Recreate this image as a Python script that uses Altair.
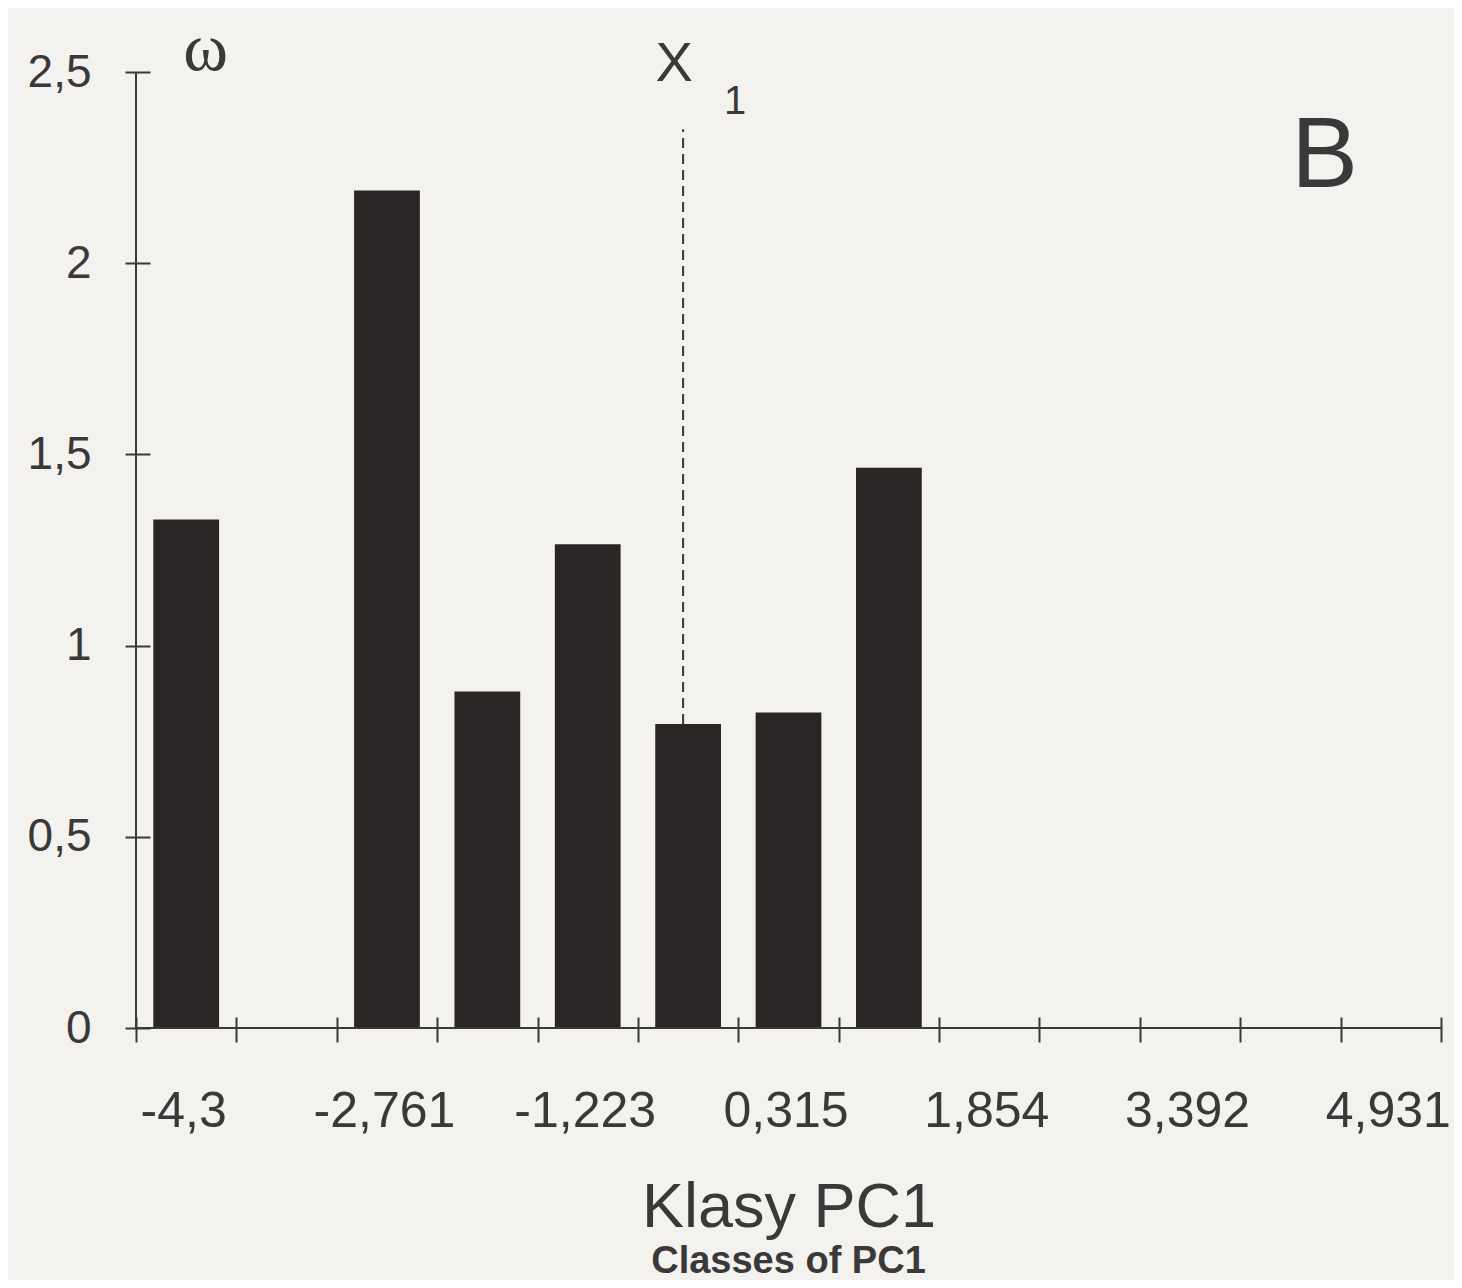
import json
import altair as alt
import pandas as pd

# ---- data ----
classes = ["-4,3", "-3,531", "-2,761", "-1,992", "-1,223", "-0,454", "0,315",
           "1,085", "1,854", "2,623", "3,392", "4,162", "4,931"]
omega = [1.33, 0.0, 2.19, 0.88, 1.265, 0.795, 0.825, 1.465, 0.0, 0.0, 0.0, 0.0, 0.0]
y_ticks = [0, 0.5, 1, 1.5, 2, 2.5]
mean_class = "-0,454"      # class holding the mean line x1
mean_top = 2.35            # top of the dashed mean line
panel_label = "B"
panel_class = "4,162"
panel_y = 2.2

ink = "#3a3838"
bar_color = "#2a2626"
bg = "#f3f2ee"
font = "Liberation Sans"

df = pd.DataFrame({"cls": classes, "omega": omega})

x_scale = alt.Scale(domain=classes, paddingInner=0, paddingOuter=0)
y_scale = alt.Scale(domain=[0, 2.5], nice=False, zero=True)

label_expr = "indexof(%s, datum.value) %% 2 == 0 ? datum.value : ''" % json.dumps(classes)

x_axis = alt.Axis(
    title="Klasy PC1", tickBand="extent", offset=-11, tickSize=25, tickWidth=2,
    tickColor=ink, domain=False, grid=False, labelAngle=0, labelExpr=label_expr,
    labelAlign="center", labelOffset=-3, labelFlush=False,
    labelFontSize=50, labelFont=font, labelColor=ink, labelPadding=69,
    titleFontSize=63, titleFont=font, titleColor=ink, titleFontWeight="normal",
    titlePadding=40,
)
y_axis = alt.Axis(
    values=y_ticks, offset=-14, tickSize=25, tickWidth=2, tickColor=ink,
    domain=False, grid=False,
    labelExpr="replace(format(datum.value, '~g'), '.', ',')",
    labelFontSize=46, labelFont=font, labelColor=ink, labelPadding=34,
    title="ω", titleAngle=0, titleX=55, titleY=-3, titleAlign="center",
    titleBaseline="alphabetic", titleFontSize=68, titleFont="Liberation Serif",
    titleColor=ink, titleFontWeight="normal",
)

bars = alt.Chart(df).mark_bar(color=bar_color, width={"band": 0.655}).encode(
    x=alt.X("cls:N", sort=classes, scale=x_scale, axis=x_axis),
    y=alt.Y("omega:Q", scale=y_scale, axis=y_axis),
)

# axis lines
x_line = alt.Chart(pd.DataFrame({"omega": [0.0]})).mark_rule(color=ink, strokeWidth=2).encode(
    y=alt.Y("omega:Q", scale=y_scale)
)
y_line_df = pd.DataFrame({"cls": [classes[0]], "omega": [0.0], "top": [y_ticks[-1]]})
y_line = alt.Chart(y_line_df).mark_rule(color=ink, strokeWidth=2).encode(
    x=alt.X("cls:N", sort=classes, scale=x_scale, bandPosition=0),
    y=alt.Y("omega:Q", scale=y_scale),
    y2="top:Q",
)

# dashed mean line
mean_df = pd.DataFrame({"cls": [mean_class], "omega": [0.0], "top": [mean_top],
                        "t1": ["X"], "t2": ["1"]})
mean_line = alt.Chart(mean_df).mark_rule(color=ink, strokeWidth=2, strokeDash=[10, 6]).encode(
    x=alt.X("cls:N", sort=classes, scale=x_scale, bandPosition=0.45),
    y=alt.Y("omega:Q", scale=y_scale),
    y2="top:Q",
)
mean_x = alt.Chart(mean_df).mark_text(
    font=font, fontSize=56, color=ink, dx=-9, dy=-48, baseline="alphabetic", align="center"
).encode(
    x=alt.X("cls:N", sort=classes, scale=x_scale, bandPosition=0.45),
    y=alt.Y("top:Q", scale=y_scale),
    text="t1:N",
)
mean_sub = alt.Chart(mean_df).mark_text(
    font=font, fontSize=40, color=ink, dx=52, dy=-15, baseline="alphabetic", align="center"
).encode(
    x=alt.X("cls:N", sort=classes, scale=x_scale, bandPosition=0.45),
    y=alt.Y("top:Q", scale=y_scale),
    text="t2:N",
)

panel_df = pd.DataFrame({"cls": [panel_class], "omega": [panel_y], "t": [panel_label]})
panel = alt.Chart(panel_df).mark_text(
    font=font, fontSize=100, color=ink, baseline="alphabetic", align="center"
).encode(
    x=alt.X("cls:N", sort=classes, scale=x_scale, bandPosition=0.84),
    y=alt.Y("omega:Q", scale=y_scale),
    text="t:N",
)

chart = alt.layer(mean_line, bars, x_line, y_line, mean_x, mean_sub, panel).properties(
    width=1305,
    height=956,
    background=bg,
    padding={"left": 128, "top": 64, "right": 13, "bottom": 252},
    autosize=alt.AutoSizeParams(type="none"),
    title=alt.TitleParams(
        text="Classes of PC1", orient="bottom", anchor="middle", fontSize=38,
        font=font, color=ink, fontWeight="bold", offset=4,
    ),
).configure_view(stroke=None)

chart.save("out.html", embed_options={"renderer": "svg", "actions": False})
